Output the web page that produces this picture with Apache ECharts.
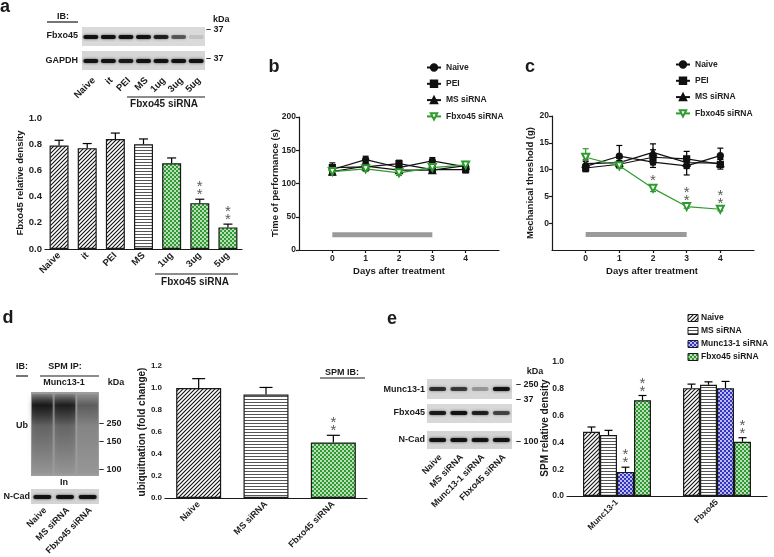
<!DOCTYPE html>
<html>
<head>
<meta charset="utf-8">
<script src="https://cdn.jsdelivr.net/npm/echarts@6/dist/echarts.min.js"></script>
<style>
  html, body { margin: 0; background: #fff; }
  #chart { width: 774px; height: 557px; }
</style>
</head>
<body>
<div id="chart"></div>
<script>
// ---- data ----
const aCats  = ['Naive', 'it', 'PEI', 'MS', '1ug', '3ug', '5ug'];
const aMean  = [0.79, 0.77, 0.84, 0.80, 0.655, 0.35, 0.165];
const aSem   = [0.04, 0.035, 0.045, 0.04, 0.04, 0.03, 0.025];
const aStars = [0, 0, 0, 0, 0, 2, 2];
const aBlotFbxo  = [1, 1, 1, 1, 0.9, 0.6, 0.12];
const aBlotGapdh = [1, 1, 0.95, 1, 1, 1, 1];

const days      = [0, 1, 2, 3, 4];
const dayTicks  = [0, 1, 2, 3, 4];
const treatDays = [0, 3];
const lineNames = ['Naive', 'PEI', 'MS siRNA', 'Fbxo45 siRNA'];

const bNaive = [121, 136, 124, 134, 125];
const bPEI   = [124, 125, 130, 121, 121];
const bMS    = [118, 126, 120, 120, 127];
const bFbxo  = [118, 122, 116, 124, 128];
const bNaiveErr = [6, 5, 5, 5, 6];
const bPEIErr   = [7, 4, 5, 4, 5];
const bMSErr    = [5, 6, 5, 4, 6];
const bFbxoErr  = [5, 4, 4, 4, 5];
const bTreatLevel = 23;

const cNaive = [10.6, 12.5, 11.4, 10.7, 12.6];
const cPEI   = [10.3, 11.0, 12.3, 12.0, 11.0];
const cMS    = [11.1, 11.3, 13.2, 11.3, 11.2];
const cFbxo  = [12.3, 10.7, 6.5, 3.1, 2.6];
const cNaiveErr = [0.9, 2.0, 1.0, 1.7, 1.4];
const cPEIErr   = [0.7, 0.7, 1.4, 1.4, 0.9];
const cMSErr    = [0.7, 0.8, 1.6, 1.1, 0.8];
const cFbxoErr  = [1.6, 0.5, 0.6, 0.3, 0.3];
const cStars    = [0, 0, 1, 2, 2];
const cTreatLevel = -2.1;

const dCats  = ['Naive', 'MS siRNA', 'Fbxo45 siRNA'];
const dMean  = [1.0, 0.94, 0.505];
const dSem   = [0.085, 0.065, 0.065];
const dStars = [0, 0, 2];
const dBlotUb   = [0.95, 0.9, 0.45];
const dBlotNcad = [1, 1, 1];

const eCats  = ['Munc13-1', 'Fbxo45'];
const eNames = ['Naive', 'MS siRNA', 'Munc13-1 siRNA', 'Fbxo45 siRNA'];
const eNaive = [0.48, 0.805];
const eMS    = [0.455, 0.83];
const eMunc  = [0.18, 0.805];
const eFbxo  = [0.715, 0.405];
const eNaiveErr = [0.035, 0.03];
const eMSErr    = [0.035, 0.022];
const eMuncErr  = [0.035, 0.05];
const eFbxoErr  = [0.035, 0.03];
const eStars = [[0, 0], [0, 0], [2, 0], [2, 2]];
const eBlotMunc = [0.8, 0.75, 0.3, 1];
const eBlotFbxo = [0.95, 1, 0.9, 0.7];
const eBlotNcad = [1, 1, 1, 1];

// ---- look ----
const FONT  = '"Liberation Sans", Arial, sans-serif';
const INK   = '#1a1a1a';
const GREEN = '#2f9a2f';
const BLUE  = '#3434c4';

function makePattern(w, h, draw) {
  const c = document.createElement('canvas');
  c.width = w; c.height = h;
  draw(c.getContext('2d'), w, h);
  return { image: c, repeat: 'repeat' };
}
const hatch = makePattern(4, 4, (ctx) => {
  ctx.fillStyle = '#fff'; ctx.fillRect(0, 0, 4, 4);
  ctx.strokeStyle = '#111'; ctx.lineWidth = 1.1;
  ctx.beginPath();
  ctx.moveTo(-1, 5); ctx.lineTo(5, -1);
  ctx.moveTo(-1, 1); ctx.lineTo(1, -1);
  ctx.moveTo(3, 5); ctx.lineTo(5, 3);
  ctx.stroke();
});
const hlines = makePattern(4, 3, (ctx) => {
  ctx.fillStyle = '#fff'; ctx.fillRect(0, 0, 4, 3);
  ctx.fillStyle = '#555'; ctx.fillRect(0, 0, 4, 1);
});
function dots(bg) {
  return makePattern(4, 4, (ctx) => {
    ctx.fillStyle = bg; ctx.fillRect(0, 0, 4, 4);
    ctx.fillStyle = '#fff';
    ctx.beginPath(); ctx.arc(1, 1, 0.9, 0, Math.PI * 2); ctx.fill();
    ctx.beginPath(); ctx.arc(3, 3, 0.9, 0, Math.PI * 2); ctx.fill();
  });
}
const greenDots = dots(GREEN);
const blueDots  = dots(BLUE);

function txt(x, y, s, size, align, rot, extra) {
  return {
    type: 'text', x: x, y: y, rotation: rot || 0, silent: true,
    style: Object.assign({
      text: s, fontFamily: FONT, fontSize: size || 9, fontWeight: 'bold',
      fill: INK, align: align || 'center', verticalAlign: 'middle'
    }, extra || {})
  };
}
function seg(x1, y1, x2, y2) {
  return { type: 'line', silent: true, shape: { x1, y1, x2, y2 }, style: { stroke: INK, lineWidth: 1.2 } };
}
function box(x, y, w, h, fill) {
  return { type: 'rect', silent: true, shape: { x, y, width: w, height: h }, style: { fill: fill || '#d9d9d9' } };
}
function bands(x0, w, yc, h, levels, bw) {
  const step = w / levels.length;
  return levels.map((v, i) => ({
    type: 'rect', silent: true,
    shape: { x: x0 + step * i + (step - bw) / 2, y: yc - h / 2, width: bw, height: h, r: h / 2 },
    style: {
      fill: 'rgba(10,10,10,' + (0.92 * v).toFixed(2) + ')',
      shadowBlur: 3, shadowColor: 'rgba(0,0,0,' + (0.7 * v).toFixed(2) + ')'
    }
  }));
}
function smears(x0, w, y, h, levels) {
  const step = w / levels.length;
  return levels.map((v, i) => ({
    type: 'rect', silent: true,
    shape: { x: x0 + step * i + 1, y: y + 2, width: step - 2, height: h - 4 },
    style: {
      fill: new echarts.graphic.LinearGradient(0, 0, 0, 1, [
        { offset: 0, color: 'rgba(0,0,0,' + (0.15 * v).toFixed(2) + ')' },
        { offset: 0.14, color: 'rgba(0,0,0,' + (0.8 * v).toFixed(2) + ')' },
        { offset: 0.4, color: 'rgba(0,0,0,' + (0.3 * v).toFixed(2) + ')' },
        { offset: 1, color: 'rgba(0,0,0,0.04)' }
      ]),
      shadowBlur: 5, shadowColor: 'rgba(0,0,0,' + (0.5 * v).toFixed(2) + ')'
    }
  }));
}
function laneLabels(x0, w, y, names, size) {
  const step = w / names.length;
  return names.map((n, i) => txt(x0 + step * (i + 0.5) + 3, y, n, size, 'right', Math.PI / 4));
}

// ---- error bars + asterisks ----
function errorRender(cap, both, colors) {
  return function (params, api) {
    const x = api.value(0), m = api.value(1), e = api.value(2);
    const stars = api.value(3) || 0, shift = api.value(4) || 0;
    const p = api.coord([x, m]);
    const top = api.coord([x, m + e]);
    const bot = both ? api.coord([x, m - e]) : p;
    const cx = p[0] + shift;
    const style = { stroke: colors ? colors[params.dataIndex] : '#000', lineWidth: 1.2 };
    const kids = [
      { type: 'line', shape: { x1: cx, y1: top[1], x2: cx, y2: bot[1] }, style },
      { type: 'line', shape: { x1: cx - cap / 2, y1: top[1], x2: cx + cap / 2, y2: top[1] }, style }
    ];
    if (both) kids.push({ type: 'line', shape: { x1: cx - cap / 2, y1: bot[1], x2: cx + cap / 2, y2: bot[1] }, style });
    for (let k = 0; k < stars; k++) {
      kids.push({
        type: 'text', x: cx, y: top[1] - 4 - k * 8,
        style: { text: '*', fontFamily: FONT, fontSize: 15, fill: '#5a5a5a', align: 'center', verticalAlign: 'middle' }
      });
    }
    return { type: 'group', children: kids };
  };
}

function aFill(i) { return i < 3 ? hatch : (i === 3 ? hlines : greenDots); }
function dFill(i) { return i === 0 ? hatch : (i === 1 ? hlines : greenDots); }
const eFills = [hatch, hlines, blueDots, greenDots];

const bSets = [[bNaive, bNaiveErr], [bPEI, bPEIErr], [bMS, bMSErr], [bFbxo, bFbxoErr]];
const cSets = [[cNaive, cNaiveErr], [cPEI, cPEIErr], [cMS, cMSErr], [cFbxo, cFbxoErr]];
const eSets = [[eNaive, eNaiveErr], [eMS, eMSErr], [eMunc, eMuncErr], [eFbxo, eFbxoErr]];
const symbols = [
  { symbol: 'circle', symbolSize: 6 },
  { symbol: 'rect', symbolSize: 6 },
  { symbol: 'triangle', symbolSize: 7 },
  { symbol: 'emptyTriangle', symbolSize: 7, symbolRotate: 180 }
];

function lineRows(sets, starsLast) {
  const rows = [], colors = [];
  sets.forEach((s, si) => {
    days.forEach((d, i) => {
      rows.push([d, s[0][i], s[1][i], (si === 3 && starsLast) ? starsLast[i] : 0, 0]);
      colors.push(si === 3 ? GREEN : '#000');
    });
  });
  return { rows, colors };
}
const bErr = lineRows(bSets, null);
const cErr = lineRows(cSets, cStars);

function lineSeries(sets, axis) {
  return sets.map((s, si) => {
    const col = si === 3 ? GREEN : '#111';
    return Object.assign({
      type: 'line', name: lineNames[si], xAxisIndex: axis, yAxisIndex: axis,
      data: days.map((d, i) => [d, s[0][i]]),
      lineStyle: { color: col, width: 1.2 },
      itemStyle: { color: col, borderColor: col, borderWidth: 1.2 },
      z: si === 3 ? 4 : 3
    }, symbols[si]);
  });
}
function treatSeries(axis, level) {
  return {
    type: 'line', name: 'treatment', xAxisIndex: axis, yAxisIndex: axis, symbol: 'none',
    data: treatDays.map((d) => [d, level]),
    lineStyle: { color: '#9a9a9a', width: 5 }, z: 1
  };
}

const axisLine = { onZero: false, lineStyle: { color: INK, width: 1.2 } };
const axisTick = { length: 3, lineStyle: { color: INK, width: 1.2 } };
function labelBase(size) {
  return { color: '#222', fontSize: size, fontWeight: 'bold', fontFamily: FONT, margin: 3 };
}

function catAxis(grid, cats, size) {
  return {
    type: 'category', gridIndex: grid, data: cats, axisLine, axisTick: { show: false },
    axisLabel: Object.assign(labelBase(size), { rotate: 45, interval: 0, margin: 5 }), splitLine: { show: false }
  };
}
function dayAxis(grid) {
  return {
    type: 'value', gridIndex: grid, min: -1, max: 5, interval: 1, axisLine,
    axisTick: Object.assign({ customValues: dayTicks }, axisTick),
    axisLabel: Object.assign({ customValues: dayTicks }, labelBase(8.5), { margin: 4 }),
    splitLine: { show: false }
  };
}
function valAxis(grid, min, max, step, digits, size, shown) {
  const ax = {
    type: 'value', gridIndex: grid, min, max, interval: step, axisLine, axisTick: Object.assign({}, axisTick),
    axisLabel: Object.assign(labelBase(size), { formatter: (v) => v.toFixed(digits) }),
    splitLine: { show: false }
  };
  if (shown) { ax.axisTick.customValues = shown; ax.axisLabel.customValues = shown; }
  return ax;
}

// ---- hand drawn pieces: blots, titles, panel letters ----
const g = [];
// panel a
g.push(txt(5, 7, 'a', 18));
g.push(txt(63, 17, 'IB:', 9), seg(47, 22, 78, 22));
g.push(txt(78, 36, 'Fbxo45', 9, 'right'), txt(78, 61, 'GAPDH', 9, 'right'));
g.push(box(82, 27, 123, 19, '#dadada'), box(82, 51, 123, 19, '#d6d6d6'));
g.push(...bands(82, 123, 37, 4, aBlotFbxo, 15), ...bands(82, 123, 61, 4, aBlotGapdh, 15));
g.push(txt(213, 20, 'kDa', 9, 'left'), txt(206, 30, '– 37', 9, 'left'), txt(206, 59, '– 37', 9, 'left'));
g.push(...laneLabels(82, 123, 79, aCats, 9.5));
g.push(seg(127, 97, 205, 97), txt(164, 104, 'Fbxo45 siRNA', 10));
g.push(txt(20, 183, 'Fbxo45 relative density', 9.5, 'center', Math.PI / 2));
g.push(seg(155, 274, 238, 274), txt(195, 282, 'Fbxo45 siRNA', 10));
// panel b
g.push(txt(274, 67, 'b', 18));
g.push(txt(275, 183, 'Time of performance (s)', 9.5, 'center', Math.PI / 2));
g.push(txt(399, 271, 'Days after treatment', 9.5));
// panel c
g.push(txt(530, 67, 'c', 18));
g.push(txt(530, 183, 'Mechanical threshold (g)', 9.5, 'center', Math.PI / 2));
g.push(txt(652, 271, 'Days after treatment', 9.5));
// panel d
g.push(txt(8, 318, 'd', 18));
g.push(txt(22, 367, 'IB:', 9), seg(16, 376, 28, 376));
g.push(txt(65, 367, 'SPM IP:', 9), seg(40, 376, 99, 376));
g.push(txt(64, 383, 'Munc13-1', 9), txt(116, 383, 'kDa', 9));
g.push(box(31, 392, 68, 84, '#9e9e9e'), ...smears(31, 68, 392, 84, dBlotUb));
g.push(txt(22, 426, 'Ub', 9));
g.push(txt(99, 424, '– 250', 9, 'left'), txt(99, 442, '– 150', 9, 'left'), txt(99, 470, '– 100', 9, 'left'));
g.push(txt(64, 483, 'In', 9));
g.push(box(31, 489, 68, 15, '#d4d4d4'), ...bands(31, 68, 497, 4, dBlotNcad, 18));
g.push(txt(30, 497, 'N-Cad', 9, 'right'));
g.push(...laneLabels(31, 68, 509, dCats, 9));
g.push(txt(142, 432, 'ubiquitnation (fold change)', 10, 'center', Math.PI / 2));
// panel e
g.push(txt(392, 319, 'e', 18));
g.push(txt(342, 373, 'SPM IB:', 9), seg(320, 378, 365, 378));
g.push(txt(425, 390, 'Munc13-1', 9, 'right'), txt(425, 413, 'Fbxo45', 9, 'right'), txt(425, 440, 'N-Cad', 9, 'right'));
g.push(box(427, 379, 85, 20, '#d6d6d6'), box(427, 404, 85, 19, '#d8d8d8'), box(427, 431, 85, 18, '#d4d4d4'));
g.push(...bands(427, 85, 389, 4, eBlotMunc, 17), ...bands(427, 85, 413, 4, eBlotFbxo, 17), ...bands(427, 85, 440, 4, eBlotNcad, 17));
g.push(txt(535, 372, 'kDa', 9), txt(516, 385, '– 250', 9, 'left'), txt(516, 400, '– 37', 9, 'left'), txt(516, 442, '– 100', 9, 'left'));
g.push(...laneLabels(427, 85, 456, eNames, 9));
g.push(txt(545, 428, 'SPM relative density', 10, 'center', Math.PI / 2));
eNames.forEach((n, i) => {
  const y = 318 + i * 13;
  g.push({ type: 'rect', silent: true, shape: { x: 688, y: y - 3.5, width: 10, height: 7 },
    style: { fill: eFills[i], stroke: INK, lineWidth: 1 } });
  g.push(txt(701, y, n, 8.5, 'left'));
});

// ---- series ----
const series = [];
series.push({
  type: 'bar', name: 'a-density', xAxisIndex: 0, yAxisIndex: 0, barWidth: 19,
  data: aMean.map((v, i) => ({ value: v, itemStyle: { color: aFill(i) } })),
  itemStyle: { borderColor: INK, borderWidth: 1.2 }
});
series.push({
  type: 'custom', name: 'a-err', xAxisIndex: 0, yAxisIndex: 0, z: 5,
  renderItem: errorRender(9, false), data: aMean.map((v, i) => [i, v, aSem[i], aStars[i], 0])
});
series.push(...lineSeries(bSets, 1), treatSeries(1, bTreatLevel));
series.push({
  type: 'custom', name: 'b-err', xAxisIndex: 1, yAxisIndex: 1, z: 2,
  renderItem: errorRender(6, true, bErr.colors), data: bErr.rows
});
series.push(...lineSeries(cSets, 2), treatSeries(2, cTreatLevel));
series.push({
  type: 'custom', name: 'c-err', xAxisIndex: 2, yAxisIndex: 2, z: 2,
  renderItem: errorRender(6, true, cErr.colors), data: cErr.rows
});
series.push({
  type: 'bar', name: 'd-ubiq', xAxisIndex: 3, yAxisIndex: 3, barWidth: 45,
  data: dMean.map((v, i) => ({ value: v, itemStyle: { color: dFill(i) } })),
  itemStyle: { borderColor: INK, borderWidth: 1.2 }
});
series.push({
  type: 'custom', name: 'd-err', xAxisIndex: 3, yAxisIndex: 3, z: 5,
  renderItem: errorRender(13, false), data: dMean.map((v, i) => [i, v, dSem[i], dStars[i], 0])
});
const eRows = [];
eSets.forEach((s, si) => {
  series.push({
    type: 'bar', name: 'e-' + eNames[si], xAxisIndex: 4, yAxisIndex: 4, barWidth: 17, barGap: '0%',
    data: s[0], itemStyle: { color: eFills[si], borderColor: INK, borderWidth: 1.2 }
  });
  eCats.forEach((c, ci) => eRows.push([ci, s[0][ci], s[1][ci], eStars[si][ci], (si - 1.5) * 17]));
});
series.push({
  type: 'custom', name: 'e-err', xAxisIndex: 4, yAxisIndex: 4, z: 5,
  renderItem: errorRender(8, false), data: eRows
});

const legendBase = {
  orient: 'vertical', itemWidth: 14, itemHeight: 8, itemGap: 7.3, padding: 0,
  data: lineNames, selectedMode: false,
  textStyle: { fontFamily: FONT, fontSize: 8.5, fontWeight: 'bold', color: '#222', lineHeight: 8 }
};

const option = {
  animation: false,
  backgroundColor: '#fff',
  grid: [
    { left: 45, right: 532, top: 118, bottom: 308, outerBoundsMode: 'none' },
    { left: 299, right: 275, top: 117, bottom: 307, outerBoundsMode: 'none' },
    { left: 552, right: 20, top: 116, bottom: 307, outerBoundsMode: 'none' },
    { left: 165, right: 407, top: 366, bottom: 59, outerBoundsMode: 'none' },
    { left: 567, right: 7, top: 362, bottom: 61, outerBoundsMode: 'none' }
  ],
  xAxis: [catAxis(0, aCats, 9.5), dayAxis(1), dayAxis(2), catAxis(3, dCats, 9), catAxis(4, eCats, 8.5)],
  yAxis: [
    valAxis(0, 0, 1, 0.2, 1, 9.5),
    valAxis(1, 0, 200, 50, 0, 8.5),
    valAxis(2, -5, 20, 5, 0, 8.5, [0, 5, 10, 15, 20]),
    valAxis(3, 0, 1.2, 0.2, 1, 8),
    valAxis(4, 0, 1, 0.2, 1, 8.5)
  ],
  legend: [
    Object.assign({ left: 426, top: 63 }, legendBase),
    Object.assign({ left: 675, top: 60 }, legendBase)
  ],
  graphic: { elements: g },
  series: series
};

const chart = echarts.init(document.getElementById('chart'));
chart.setOption(option);
</script>
</body>
</html>
